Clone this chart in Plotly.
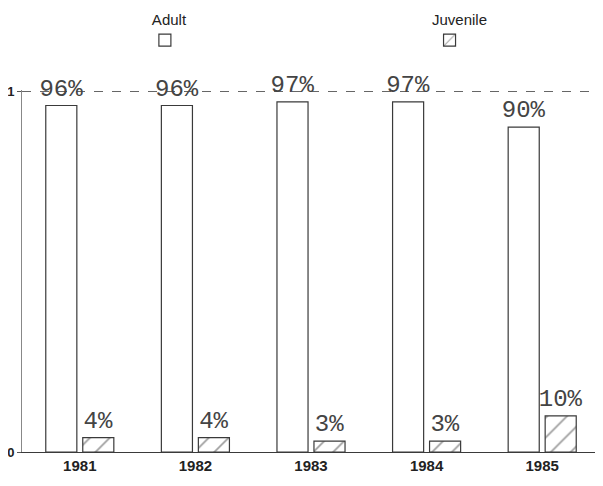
import plotly.graph_objects as go

years = ["1981", "1982", "1983", "1984", "1985"]
adult = [0.96, 0.96, 0.97, 0.97, 0.90]
juvenile = [0.04, 0.04, 0.03, 0.03, 0.10]
y_ticks = [0, 1]
y_tick_labels = ["0", "1"]

def pct(vals):
    return [f"{round(v * 100)}%" for v in vals]

line_col = "#3a3a3a"
txt_font = dict(family="Liberation Mono, DejaVu Sans Mono, monospace", size=24, color="#444")
sans = "Liberation Sans, Arial, sans-serif"

fig = go.Figure()
fig.add_trace(go.Bar(
    x=years, y=adult, name=" ", text=pct(adult), textposition="outside",
    textfont=txt_font, cliponaxis=False, constraintext="none",
    marker=dict(color="white", line=dict(color=line_col, width=1.2)),
    legend="legend", showlegend=True,
))
fig.add_trace(go.Bar(
    x=years, y=juvenile, name=" ", text=pct(juvenile), textposition="outside",
    textfont=txt_font, cliponaxis=False, constraintext="none",
    marker=dict(color="white", line=dict(color=line_col, width=1.2),
                pattern=dict(shape="/", fgcolor=line_col, bgcolor="white", size=14, solidity=0.12)),
    legend="legend2", showlegend=True,
))

leg_common = dict(
    orientation="h", yanchor="top", y=1.233, xanchor="center",
    bgcolor="rgba(0,0,0,0)", font=dict(size=13, color="#222"),
)
title_font = dict(family=sans, size=15, color="#222")
fig.update_layout(
    width=595, height=478,
    margin=dict(l=14, r=3, t=82, b=34, autoexpand=False),
    paper_bgcolor="white", plot_bgcolor="white",
    barmode="group", bargap=0.36, bargroupgap=0.16,
    legend=dict(x=0.255, title=dict(text="Adult", side="top center", font=title_font), **leg_common),
    legend2=dict(x=0.757, title=dict(text="Juvenile", side="top center", font=title_font), **leg_common),
    xaxis=dict(
        automargin=False,
        showline=True, linecolor=line_col, linewidth=1.2,
        ticks="", showgrid=False,
        tickfont=dict(family=sans, size=15, color="#222", weight="bold"),
    ),
    yaxis=dict(
        automargin=False,
        range=[0, 1.003], tickvals=y_ticks, ticktext=y_tick_labels,
        showline=True, linecolor="#888", linewidth=1,
        showgrid=True, gridcolor="#666", griddash="dash", gridwidth=1,
        zeroline=False, ticks="outside", ticklen=4, tickcolor="#555",
        tickfont=dict(family=sans, size=13, color="#222", weight="bold"),
    ),
)

fig.write_html("out.html")
